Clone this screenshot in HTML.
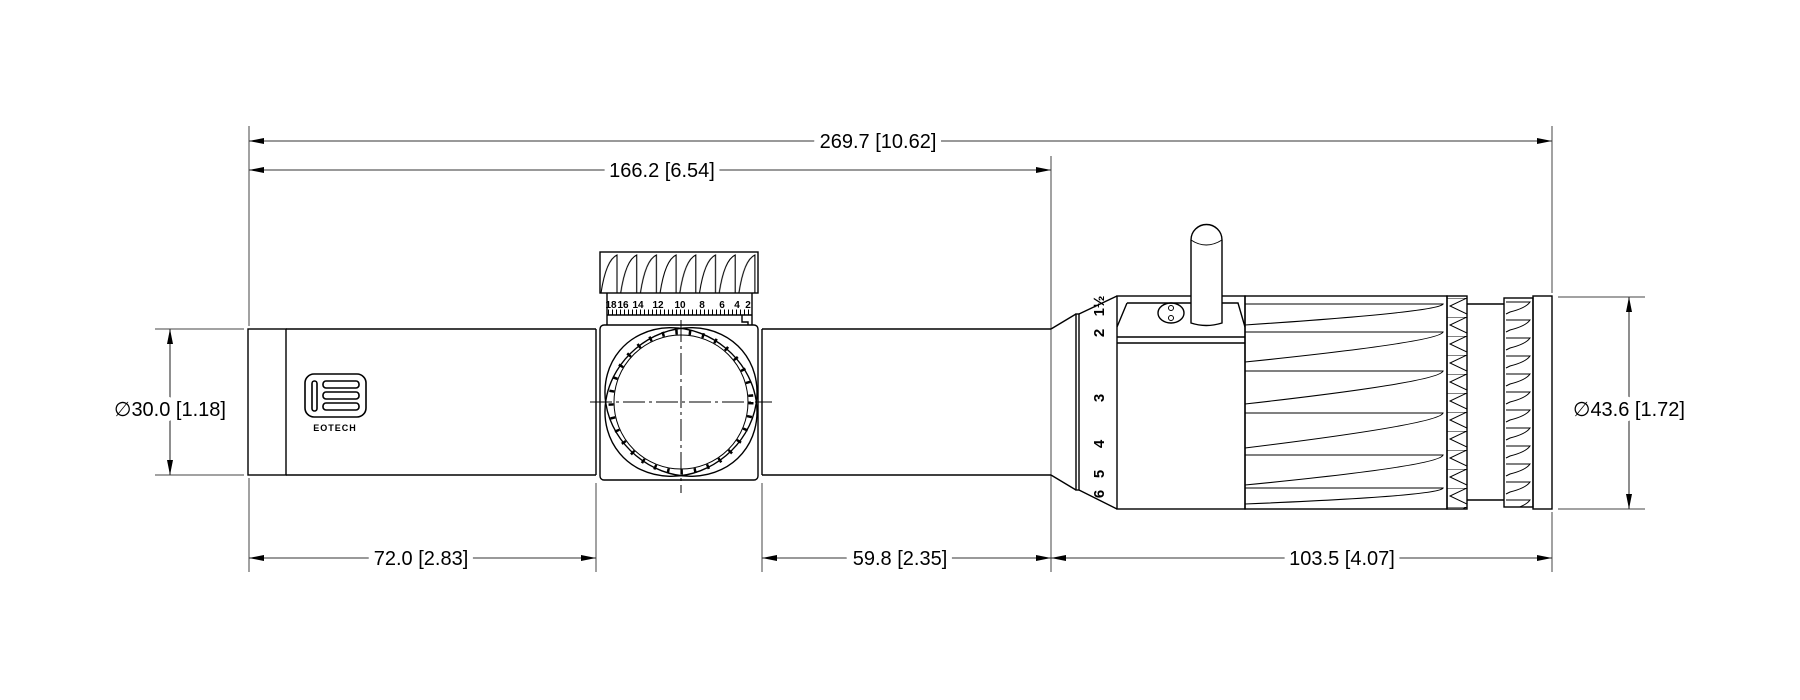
<!DOCTYPE html>
<html><head><meta charset="utf-8"><style>
html,body{margin:0;padding:0;background:#fff;}
svg{display:block;}
text{font-family:"Liberation Sans",Arial,sans-serif;}
</style></head><body>
<svg width="1800" height="700" viewBox="0 0 1800 700" xmlns="http://www.w3.org/2000/svg">
<defs>
<marker id="ae" markerWidth="16" markerHeight="8" refX="15" refY="4" orient="auto" markerUnits="userSpaceOnUse"><path d="M0,1 L15,4 L0,7 Z" fill="#000"/></marker>
<marker id="as" markerWidth="16" markerHeight="8" refX="1" refY="4" orient="auto" markerUnits="userSpaceOnUse"><path d="M16,1 L1,4 L16,7 Z" fill="#000"/></marker>
<pattern id="tflute" x="600" y="252" width="19.7" height="41" patternUnits="userSpaceOnUse">
<path d="M1,41 Q6,8 17,3 L17,41" fill="none" stroke="#000" stroke-width="1.1"/>
</pattern>
<pattern id="kn1" x="1447" y="298" width="20" height="19" patternUnits="userSpaceOnUse">
<path d="M0,0 L20,0 M20,0 L3,8 L20,16 M0,0 L0,19" fill="none" stroke="#000" stroke-width="1"/>
</pattern>
<pattern id="kn2" x="1504" y="298" width="29" height="18" patternUnits="userSpaceOnUse">
<path d="M2,4 L26,4 Q22,10 6,14 L2,16" fill="none" stroke="#000" stroke-width="1"/>
</pattern>
</defs>

<g stroke="#444" stroke-width="1" fill="none">
<line x1="249" y1="126" x2="249" y2="326"/>
<line x1="249" y1="478" x2="249" y2="572"/>
<line x1="1552" y1="126" x2="1552" y2="293"/>
<line x1="1552" y1="512" x2="1552" y2="572"/>
<line x1="1051" y1="156" x2="1051" y2="572"/>
<line x1="596" y1="483" x2="596" y2="572"/>
<line x1="762" y1="483" x2="762" y2="572"/>
<line x1="155" y1="329" x2="244" y2="329"/>
<line x1="155" y1="475" x2="244" y2="475"/>
<line x1="1558" y1="297" x2="1645" y2="297"/>
<line x1="1558" y1="509" x2="1645" y2="509"/>
</g>

<g stroke="#333" stroke-width="1.1" fill="none">
<line x1="249" y1="141" x2="1552" y2="141" marker-start="url(#as)" marker-end="url(#ae)"/>
<line x1="249" y1="170" x2="1051" y2="170" marker-start="url(#as)" marker-end="url(#ae)"/>
<line x1="249" y1="558" x2="596" y2="558" marker-start="url(#as)" marker-end="url(#ae)"/>
<line x1="762" y1="558" x2="1051" y2="558" marker-start="url(#as)" marker-end="url(#ae)"/>
<line x1="1051" y1="558" x2="1552" y2="558" marker-start="url(#as)" marker-end="url(#ae)"/>
<line x1="170" y1="329" x2="170" y2="475" marker-start="url(#as)" marker-end="url(#ae)"/>
<line x1="1629" y1="297" x2="1629" y2="509" marker-start="url(#as)" marker-end="url(#ae)"/>
</g>
<g font-size="20" fill="#000" text-anchor="middle" stroke="#fff" stroke-width="12" paint-order="stroke">
<text x="878" y="148">269.7 [10.62]</text>
<text x="662" y="177">166.2 [6.54]</text>
<text x="421" y="565">72.0 [2.83]</text>
<text x="900" y="565">59.8 [2.35]</text>
<text x="1342" y="565">103.5 [4.07]</text>
<text x="170" y="416">∅30.0 [1.18]</text>
<text x="1629" y="416">∅43.6 [1.72]</text>
</g>

<g stroke="#000" stroke-width="1.4" fill="none">
<rect x="248" y="329" width="38" height="146"/>
<line x1="286" y1="329" x2="596" y2="329"/>
<line x1="286" y1="475" x2="596" y2="475"/>
<line x1="596" y1="329" x2="596" y2="475"/>
<rect x="600" y="325" width="158" height="155" rx="4"/>
<line x1="762" y1="329" x2="762" y2="475"/>
<line x1="762" y1="329" x2="1051" y2="329"/>
<line x1="762" y1="475" x2="1051" y2="475"/>
<rect x="600" y="252" width="158" height="41" fill="url(#tflute)"/>
<line x1="607" y1="293" x2="607" y2="325"/>
<line x1="752" y1="293" x2="752" y2="325"/>
<line x1="607" y1="315" x2="752" y2="315"/>
<path d="M742,315 V322 H748 V325"/>
<ellipse cx="681" cy="402" rx="80" ry="70" transform="rotate(40 681 402)"/>
<ellipse cx="681" cy="402" rx="80" ry="70" transform="rotate(-40 681 402)"/>
<circle cx="681" cy="402" r="70" stroke-width="5" stroke-dasharray="2.5 11"/>
<circle cx="681" cy="402" r="67" stroke-width="1"/>
<line x1="1051" y1="329" x2="1076" y2="314"/>
<line x1="1051" y1="475" x2="1076" y2="490"/>
<rect x="1076" y="314" width="3" height="176"/>
<line x1="1079" y1="314" x2="1117" y2="296"/>
<line x1="1079" y1="490" x2="1117" y2="509"/>
<rect x="1117" y="296" width="128" height="213"/>
<path d="M1127,303 H1238 L1245,327 M1127,303 L1117,327"/>
<line x1="1117" y1="337" x2="1245" y2="337"/>
<line x1="1117" y1="343" x2="1245" y2="343"/>
<ellipse cx="1171" cy="313" rx="13" ry="10"/>
<circle cx="1171" cy="308" r="2.5" stroke-width="1"/>
<circle cx="1171" cy="318" r="2.5" stroke-width="1"/>
<path d="M1191,323 V240 A15.5,15.5 0 0 1 1222,240 V323 Q1206,328 1191,323 Z" fill="#fff"/>
<path d="M1191,240 Q1206,250 1222,240" stroke-width="1"/>
<rect x="1245" y="296" width="202" height="213"/>
<g stroke-width="1.1">
<path d="M1245,304 H1443 Q1440,312 1245,325"/>
<path d="M1245,332 H1443 Q1440,342 1245,362"/>
<path d="M1245,371 H1443 Q1440,382 1245,404"/>
<path d="M1245,413 H1443 Q1440,424 1245,448"/>
<path d="M1245,455 H1443 Q1440,466 1245,485"/>
<path d="M1245,488 H1443 Q1440,496 1245,504"/>
</g>
<rect x="1447" y="296" width="20" height="213" fill="url(#kn1)"/>
<line x1="1467" y1="304" x2="1504" y2="304"/>
<line x1="1467" y1="500" x2="1504" y2="500"/>
<rect x="1504" y="298" width="29" height="209" fill="url(#kn2)"/>
<rect x="1533" y="296" width="19" height="213"/>
</g>
<g stroke="#000" stroke-width="1" stroke-dasharray="22 4 3 4">
<line x1="590" y1="402" x2="772" y2="402"/>
<line x1="681" y1="320" x2="681" y2="493"/>
</g>
<g font-size="10" font-weight="bold" text-anchor="middle" fill="#000">
<text x="611" y="308">18</text><text x="623" y="308">16</text><text x="638" y="308">14</text>
<text x="658" y="308">12</text><text x="680" y="308">10</text><text x="702" y="308">8</text>
<text x="722" y="308">6</text><text x="737" y="308">4</text><text x="748" y="308">2</text>
</g>
<line x1="608" y1="312" x2="751" y2="312" stroke="#000" stroke-width="5" stroke-dasharray="1 3"/>
<g font-size="15" font-weight="bold" fill="#000" text-anchor="middle">
<text transform="translate(1104,306) rotate(-90)">1½</text>
<text transform="translate(1104,333) rotate(-90)">2</text>
<text transform="translate(1104,398) rotate(-90)">3</text>
<text transform="translate(1104,444) rotate(-90)">4</text>
<text transform="translate(1104,474) rotate(-90)">5</text>
<text transform="translate(1104,494) rotate(-90)">6</text>
</g>
<g stroke="#000" stroke-width="1.6" fill="none">
<rect x="305" y="374" width="61" height="43" rx="9"/>
<rect x="312" y="381" width="5" height="30" rx="2.5"/>
<rect x="323" y="381" width="36" height="7" rx="3"/>
<rect x="323" y="392" width="36" height="7" rx="3"/>
<rect x="323" y="403" width="36" height="7" rx="3"/>
</g>
<text x="335" y="431" font-size="9" font-weight="bold" text-anchor="middle" letter-spacing="1">EOTECH</text>
</svg>
</body></html>
